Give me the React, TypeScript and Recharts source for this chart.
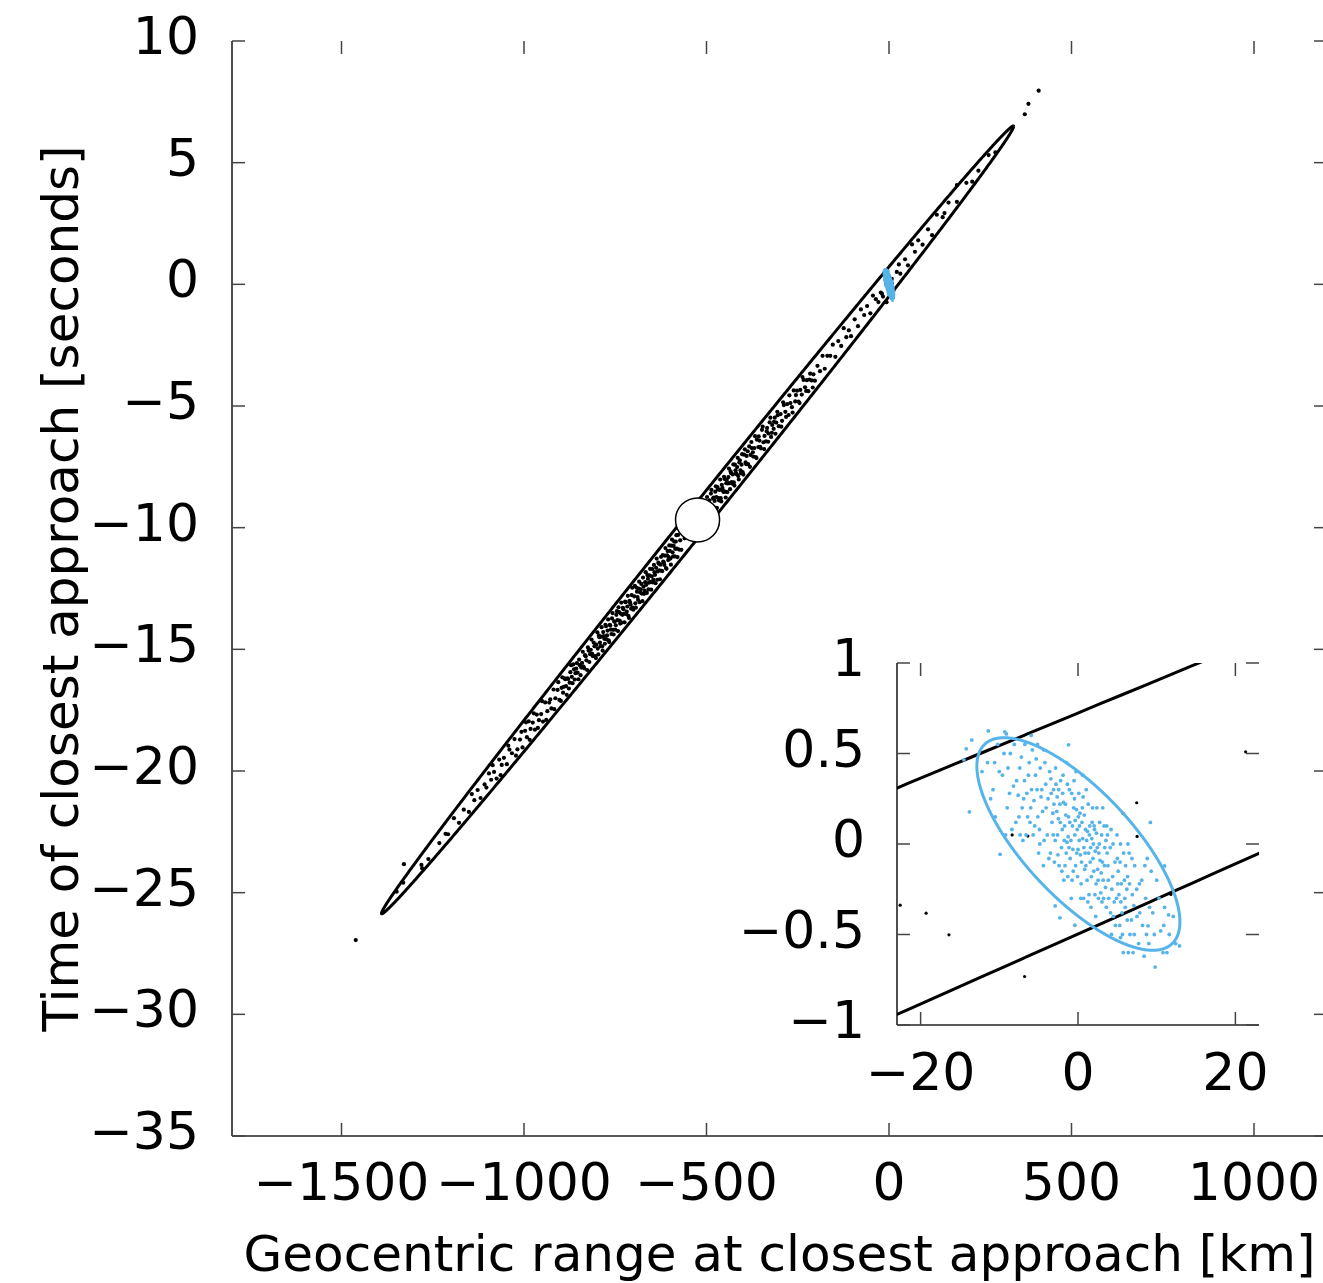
import React from 'react';
import { ScatterChart, Scatter, XAxis, YAxis } from 'recharts';

const FONT = '"DejaVu Sans", Verdana, sans-serif';
const BLUE = '#56B4E9';
const AX = '#222';

// ---- ticks ----
const mainXTicks = [-1500, -1000, -500, 0, 500, 1000];
const mainYTicks = [-35, -30, -25, -20, -15, -10, -5, 0, 5, 10];
const insetXTicks = [-20, 0, 20];
const insetYTicks = [-1, -0.5, 0, 0.5, 1];
const mainXDomain = [-1800, 1200];
const mainYDomain = [-35, 10];
const insetXDomain = [-23, 23];
const insetYDomain = [-1, 1];

// ---- ellipses: [centerX, centerY, halfLengthX, halfLengthY, halfThicknessY] ----
const mainEllipseParams = [-524.5, -9.68, 866, 16.17, 0.767];
const blueEllipseParams = [0.05, 0.0, 12.9, -0.43, 0.4];

// ---- nominal solution (white disc) ----
const nominal = [[-524.5, -9.68]];

// ---- black sample points (range km, time s) ----
const blackPts = [
  [-1461, -26.95], [-1349, -24.96], [-1331, -24.59], [-1329, -23.83],
  [-1281, -23.86], [-1279, -24.0], [-1262, -23.62], [-1232, -22.96], [-1215, -22.58], [-1208, -22.6],
  [-1192, -21.94], [-1178, -22.13], [-1165, -21.59], [-1151, -21.68], [-1143, -20.95], [-1136, -21.2],
  [-1127, -20.78], [-1119, -21.11], [-1108, -20.55], [-1103, -20.68],
  [-1096, -20.1], [-1090, -20.36], [-1082, -20.04], [-1075, -20.31], [-1068, -19.53], [-1061, -19.75],
  [-1055, -19.46], [-1047, -19.72], [-1040, -19.12], [-1033, -19.27], [-1026, -18.69], [-1018, -19.11],
  [-1011, -18.71], [-1004, -19.03],
  [-1086, -19.76], [-1064, -20.17], [-1043, -18.96], [-1022, -19.37], [-1007, -18.39],
  [-997, -18.35], [-992, -18.61], [-987, -17.96], [-982, -18.27], [-976, -18.01], [-970, -18.3],
  [-965, -17.68], [-959, -17.91], [-953, -17.66], [-948, -17.97], [-942, -17.18], [-936, -17.54],
  [-931, -17.19], [-925, -17.43], [-919, -16.65], [-914, -17.01], [-908, -16.67], [-903, -17.08],
  [-994.5, -18.0], [-984.5, -18.72], [-973, -17.63], [-962, -18.23], [-950.5, -17.13], [-939, -17.9],
  [-928, -17.06], [-917, -17.46], [-906, -16.35],
  [-897, -16.58], [-893, -16.78], [-889, -16.19], [-885, -16.51], [-881, -16.19], [-877, -16.61],
  [-873, -15.94], [-869, -16.13], [-865, -15.62], [-861, -16.24], [-857, -15.79], [-853, -15.96],
  [-849, -15.42], [-845, -16.06], [-841, -15.56], [-837, -15.71], [-833, -15.24], [-829, -15.45],
  [-825, -14.92], [-821, -15.52], [-817, -15.02], [-813, -15.19], [-809, -14.72], [-805, -15.28],
  [-802, -14.81],
  [-899, -17.12], [-895, -16.15], [-891, -16.54], [-887, -16.23], [-883, -16.87], [-879, -16.22],
  [-875, -16.37], [-871, -15.65], [-867, -16.39], [-863, -15.82], [-859, -15.98], [-855, -15.57],
  [-851, -16.23], [-847, -15.65], [-843, -15.75], [-839, -15.1], [-835, -15.78], [-831, -15.28],
  [-827, -15.85], [-823, -15.05], [-819, -15.2], [-815, -14.6], [-811, -15.28], [-807, -14.87],
  [-803, -15.36],
  [-798, -14.97], [-795, -14.43], [-792, -14.72], [-789, -14.48], [-786, -14.88], [-783, -14.29],
  [-780, -14.57], [-777, -13.99], [-774, -14.59], [-771, -14.23], [-768, -14.63], [-765, -13.99],
  [-762, -14.19], [-759, -13.73], [-756, -14.2], [-753, -13.85], [-750, -14.19], [-747, -13.58],
  [-744, -13.8], [-741, -13.27], [-738, -13.82], [-735, -13.53], [-732, -13.9], [-729, -13.3],
  [-726, -13.54], [-723, -13.04], [-720, -13.55], [-717, -13.24], [-714, -13.62], [-711, -13.01],
  [-708, -13.16], [-705, -12.77], [-702, -13.29],
  [-799, -14.3], [-796.5, -15.21], [-793.5, -14.5], [-790.5, -14.87], [-787.5, -14.09], [-784.5, -15.05],
  [-781.5, -14.46], [-778.5, -14.77], [-775.5, -14.05], [-772.5, -14.43], [-769.5, -13.77], [-766.5, -14.7],
  [-763.5, -14.02], [-760.5, -14.37], [-757.5, -13.51], [-754.5, -14.39], [-751.5, -13.87], [-748.5, -14.01],
  [-745.5, -13.43], [-742.5, -14.25], [-739.5, -13.47], [-736.5, -13.94], [-733.5, -13.08], [-730.5, -13.58],
  [-727.5, -13.35], [-724.5, -13.89], [-721.5, -13.06], [-718.5, -13.45], [-715.5, -12.8], [-712.5, -13.71],
  [-709.5, -13.08], [-706.5, -13.33], [-703.5, -12.47], [-700.5, -13.37],
  [-698, -12.82], [-695, -13.11], [-692, -12.46], [-689, -12.85], [-686, -12.5], [-683, -13.06],
  [-680, -12.53], [-677, -12.71], [-674, -12.05], [-671, -12.72], [-668, -12.24], [-665, -12.35],
  [-662, -11.95], [-659, -12.54], [-656, -11.96], [-653, -12.23], [-650, -12.0], [-647, -12.25],
  [-644, -11.53], [-641, -11.94], [-638, -11.65], [-635, -12.14], [-632, -11.44], [-629, -11.75],
  [-626, -11.52], [-623, -11.77], [-620, -11.13], [-617, -11.43], [-614, -11.15], [-611, -11.66],
  [-608, -11.14], [-605, -11.33], [-602, -10.73],
  [-696.5, -12.39], [-693.5, -13.29], [-690.5, -12.63], [-687.5, -12.97], [-684.5, -12.22], [-681.5, -12.66],
  [-678.5, -12.31], [-675.5, -13.02], [-672.5, -12.42], [-669.5, -12.59], [-666.5, -11.83], [-663.5, -12.68],
  [-660.5, -12.1], [-657.5, -12.26], [-654.5, -11.69], [-651.5, -12.55], [-648.5, -11.7], [-645.5, -12.14],
  [-642.5, -11.83], [-639.5, -12.28], [-636.5, -11.27], [-633.5, -11.8], [-630.5, -11.48], [-627.5, -12.12],
  [-624.5, -11.2], [-621.5, -11.79], [-618.5, -11.39], [-615.5, -11.53], [-612.5, -10.84], [-609.5, -11.69],
  [-606.5, -10.96], [-603.5, -11.21], [-600.5, -10.95],
  [-599, -11.27], [-596, -10.74], [-593, -11.01], [-590, -10.75], [-587, -11.18], [-584, -10.57],
  [-581, -10.86], [-578, -10.3], [-575, -10.9], [-572, -10.52], [-569, -10.91], [-566, -10.21],
  [-597.5, -11.52], [-594.5, -10.49], [-591.5, -11.18], [-588.5, -10.57], [-585.5, -10.87], [-582.5, -10.31],
  [-579.5, -11.21],
  [-560, -10.44], [-550, -9.96], [-540, -10.22], [-530, -9.48], [-520, -9.65], [-510, -9.06],
  [-497, -9.47], [-494, -8.96], [-491, -9.15], [-488, -8.6], [-485, -9.16], [-482, -8.81],
  [-479, -9.18], [-476, -8.52], [-473, -8.74], [-470, -8.33], [-467, -8.79], [-464, -8.45],
  [-461, -8.79], [-458, -8.24], [-455, -8.46], [-452, -7.91], [-449, -8.52], [-446, -8.17],
  [-443, -8.54], [-440, -7.92], [-437, -8.17], [-434, -7.69], [-431, -8.13], [-428, -7.81],
  [-425, -8.14], [-422, -7.41], [-419, -7.76], [-416, -7.51], [-413, -7.88], [-410, -7.32],
  [-407, -7.64], [-404, -7.41], [-401, -7.72],
  [-498.5, -8.74], [-495.5, -9.64], [-492.5, -8.88], [-489.5, -9.23], [-486.5, -8.45], [-483.5, -9.36],
  [-480.5, -8.76], [-477.5, -8.9], [-474.5, -8.3], [-471.5, -9.19], [-468.5, -8.43], [-465.5, -8.88],
  [-462.5, -8.02], [-459.5, -8.92], [-456.5, -8.36], [-453.5, -8.53], [-450.5, -8.0], [-447.5, -8.76],
  [-444.5, -8.04], [-441.5, -8.18], [-438.5, -7.57], [-435.5, -8.42], [-432.5, -7.76], [-429.5, -8.19],
  [-426.5, -7.4], [-423.5, -8.27], [-420.5, -7.64], [-417.5, -7.8], [-414.5, -7.13], [-411.5, -8.02],
  [-408.5, -7.23], [-405.5, -7.76], [-402.5, -6.98],
  [-397, -7.0], [-393, -7.32], [-390, -7.05], [-386, -7.39], [-383, -6.66], [-379, -7.01],
  [-376, -6.73], [-372, -7.08], [-369, -6.73], [-365, -7.1], [-362, -6.38], [-358, -6.69],
  [-355, -6.42], [-351, -6.74], [-348, -5.98], [-344, -6.49], [-341, -6.23], [-337, -6.45],
  [-334, -5.9], [-330, -6.13], [-327, -5.67], [-323, -6.27], [-320, -5.78], [-316, -5.94],
  [-313, -5.48], [-309, -5.68], [-306, -5.24], [-302, -5.83],
  [-399, -7.82], [-395, -6.78], [-391, -7.39], [-387, -6.86], [-381, -7.5], [-377, -6.48],
  [-373, -6.9], [-367, -6.24], [-363, -7.14], [-357, -6.25], [-353, -6.68], [-346, -5.85],
  [-342, -6.77], [-335, -6.04], [-331, -6.47], [-325, -5.48], [-321, -6.1], [-315, -5.65],
  [-311, -6.14], [-305, -5.38],
  [-297, -5.33], [-293, -5.61], [-288, -4.96], [-284, -5.24], [-279, -4.92], [-275, -5.37],
  [-270, -4.88], [-266, -5.05], [-261, -4.36], [-257, -4.81], [-252, -4.37], [-248, -4.82],
  [-243, -4.34], [-239, -4.53], [-234, -3.93], [-230, -4.23], [-225, -3.94], [-221, -4.39],
  [-216, -3.67], [-212, -3.95], [-207, -3.7], [-203, -3.96],
  [-295, -5.85], [-290, -4.85], [-282, -5.45], [-273, -4.56], [-264, -5.27], [-255, -4.55],
  [-245, -4.88], [-237, -3.81], [-227, -4.38], [-218, -3.91], [-209, -4.24],
  [-196, -3.35], [-189, -3.57], [-182, -2.94], [-176, -3.47], [-169, -2.94], [-161, -2.94],
  [-154, -2.48], [-147, -2.98], [-139, -2.33], [-131, -2.53], [-124, -1.8], [-117, -2.17],
  [-110, -1.89], [-104, -2.13],
  [-94, -1.44], [-85, -1.72], [-77, -1.03], [-68, -1.26], [-60, -0.89], [-51, -1.19],
  [-44, -0.46], [-36, -0.61], [-29, -0.73],
  [-22.6, -0.338], [-19.3, -0.382], [-16.4, -0.502], [-6.79, -0.732], [-8.37, 0.05], [-6.36, 0.044],
  [5.74, 0.169], [7.46, 0.228], [7.51, 0.042], [11.8, -0.279], [21.3, 0.509],
  [27, 0.82], [31, 0.44], [44, 1.03], [52, 0.78], [63, 1.64], [71, 1.34], [80, 1.81], [92, 1.63],
  [107, 2.26], [118, 2.02], [131, 2.86], [147, 2.76], [152, 2.93], [163, 3.36], [186, 3.39], [186, 4.08],
  [212, 4.17], [228, 4.22], [245, 4.67], [273, 5.31], [291.5, 5.42],
  [372, 6.99], [382, 7.42], [410, 7.96],
];

// ---- blue sample points (inset solution) ----
const bluePts = [
  [-3.8, 0.25], [-3.5, -0.05], [-3.1, 0.3], [-2.9, 0.02], [-2.7, 0.18], [-2.4, -0.12], [-2.2, 0.35],
  [-2.0, 0.08], [-1.8, -0.2], [-1.6, 0.22], [-1.4, 0.01], [-1.2, 0.15], [-1.0, -0.08], [-0.8, 0.28],
  [-0.6, -0.15], [-0.4, 0.05], [-0.2, 0.19], [0.0, -0.03], [0.2, 0.1], [0.4, -0.22], [0.6, 0.03],
  [0.8, 0.16], [1.0, -0.12], [1.2, 0.07], [1.4, -0.28], [1.6, -0.02], [1.8, 0.12], [2.0, -0.15],
  [2.2, -0.04], [2.4, 0.2], [2.6, -0.3], [2.8, -0.09], [3.0, 0.05], [3.2, -0.2], [3.4, -0.02],
  [3.6, -0.35], [3.8, -0.12], [-3.6, 0.4], [-3.3, 0.12], [-3.0, -0.1], [-2.6, 0.05], [-2.3, 0.22],
  [-1.9, 0.38], [-1.5, -0.05], [-1.1, 0.3], [-0.7, 0.1], [-0.3, -0.12], [0.1, 0.28], [0.5, 0.12],
  [0.9, -0.05], [1.3, 0.22], [1.7, -0.18], [2.1, 0.08], [2.5, -0.14], [2.9, -0.27], [3.3, 0.1],
  [3.7, -0.05], [-3.9, 0.05], [-3.4, 0.28], [-2.8, 0.33], [-2.1, -0.02], [-1.7, 0.1], [-1.3, -0.18],
  [-0.9, 0.02], [-0.5, 0.35], [-0.1, 0.08], [0.3, -0.06], [0.7, -0.3], [1.1, 0.02], [1.5, 0.1],
  [1.9, -0.08], [2.3, -0.22], [2.7, 0.0], [3.1, -0.1], [3.5, -0.24], [3.9, -0.3], [-3.2, 0.17],
  [-2.5, 0.14], [-1.85, 0.23], [-1.25, 0.04], [-0.65, -0.03], [-0.05, -0.18], [0.55, 0.2],
  [1.15, -0.2], [1.75, 0.03], [2.35, 0.06], [2.95, -0.16], [3.55, 0.02], [0.15, 0.02], [0.85, -0.14],
  [1.45, 0.05], [-0.35, 0.13], [-1.55, 0.16], [2.65, -0.05], [1.95, 0.0], [-2.65, 0.26],
  [-3.7, -0.08], [-3.45, 0.36], [-3.15, 0.05], [-2.85, 0.42], [-2.55, -0.06], [-2.25, 0.12],
  [-1.95, 0.28], [-1.65, -0.12], [-1.35, 0.33], [-1.05, 0.12], [-0.75, -0.2], [-0.45, 0.25],
  [-0.15, -0.05], [0.25, 0.17], [0.45, -0.1], [0.65, 0.26], [0.95, 0.08], [1.25, -0.32], [1.55, -0.1],
  [1.85, 0.2], [2.15, -0.28], [2.45, -0.02], [2.75, 0.12], [3.05, -0.32], [3.35, -0.12], [3.65, 0.1],
  [3.85, -0.2], [-3.05, 0.22], [-2.45, 0.3], [-1.75, 0.02], [-1.15, -0.02], [-0.55, 0.2], [0.05, 0.15],
  [0.75, -0.02], [1.35, -0.05], [2.05, 0.1], [2.55, -0.2], [3.25, -0.3], [3.75, 0.05],
  [-0.25, 0.4], [0.35, -0.3], [1.05, 0.3], [-1.45, 0.45], [2.25, -0.4], [-2.05, -0.15], [3.15, 0.2],
  [1.65, -0.35], [-0.85, -0.3], [0.6, 0.38],
  [-7.8, 0.35], [-7.5, 0.15], [-7.2, 0.48], [-6.9, 0.25], [-6.6, 0.05], [-6.3, 0.38], [-6.0, 0.2],
  [-5.8, 0.52], [-5.5, 0.1], [-5.2, 0.3], [-5.0, -0.05], [-4.8, 0.42], [-4.5, 0.18], [-4.3, 0.02],
  [-4.1, 0.33], [-6.5, 0.28], [-5.6, 0.24], [-4.7, 0.26], [-7.0, 0.02], [-5.3, 0.47], [-4.4, -0.12],
  [-6.1, 0.12], [-7.6, 0.27], [-4.9, 0.08],
  [-4.2, 0.45], [-4.6, 0.3], [-5.1, 0.15], [-5.4, 0.38], [-5.7, 0.05], [-5.9, 0.3], [-6.2, 0.45],
  [-6.4, 0.15], [-6.8, 0.35], [-7.1, 0.2], [-7.4, 0.42], [-7.9, 0.12], [-4.05, 0.2], [-4.85, 0.0],
  [-5.95, 0.6], [-6.75, 0.55], [-7.35, 0.05], [-4.35, 0.52], [-5.15, 0.55],
  [4.1, -0.02], [4.3, -0.25], [4.5, -0.4], [4.7, -0.1], [4.9, -0.3], [5.1, -0.15], [5.3, -0.45],
  [5.5, -0.22], [5.8, -0.05], [6.0, -0.35], [6.3, -0.18], [6.6, -0.5], [6.9, -0.28], [7.2, -0.12],
  [7.5, -0.4], [7.8, -0.22], [4.4, -0.18], [5.0, -0.08], [5.6, -0.38], [6.2, -0.25], [6.8, -0.42],
  [4.6, -0.32], [5.2, -0.28], [5.9, -0.2], [6.5, -0.05], [7.1, -0.34], [4.2, 0.08], [7.7, -0.55],
  [5.4, 0.0], [6.4, -0.6],
  [4.15, -0.38], [4.45, 0.0], [4.75, -0.45], [5.05, -0.22], [5.35, -0.1], [5.65, -0.5], [5.95, -0.3],
  [6.25, -0.42], [6.55, -0.22], [6.85, -0.08], [7.15, -0.5], [7.45, -0.25], [7.85, -0.38], [4.25, -0.5],
  [4.95, 0.05], [5.75, -0.6], [6.35, 0.0], [7.0, -0.6], [5.45, -0.32], [6.05, -0.12],
  [-11.5, 0.45], [-10.8, 0.3], [-10.2, 0.55], [-9.6, 0.38], [-9.0, 0.2], [-8.6, 0.5], [-8.2, 0.32],
  [-9.3, 0.62], [-10.5, 0.15], [-8.4, 0.08], [-12.2, 0.4], [-8.9, 0.42],
  [-8.1, 0.55], [-8.7, 0.28], [-9.4, 0.5], [-10.0, 0.4], [-10.6, 0.45], [-11.1, 0.25], [-9.2, 0.05],
  [8.2, -0.45], [8.6, -0.3], [9.0, -0.55], [9.5, -0.38], [10.0, -0.2], [10.5, -0.48], [11.0, -0.35],
  [11.6, -0.5], [8.4, -0.62], [9.3, -0.15], [10.8, -0.6], [12.1, -0.4], [8.8, -0.08], [9.8, -0.68],
  [8.1, -0.2], [8.7, -0.5], [9.1, -0.35], [9.7, -0.5], [10.3, -0.3], [10.9, -0.45], [11.3, -0.6],
  [8.5, -0.12], [12.4, -0.55],
  [-11.4, 0.625], [-9.1, 0.608], [-13.5, 0.574], [-14.2, 0.526], [-14.5, 0.465], [-13.8, 0.178],
  [-9.9, -0.057], [-1.2, 0.548], [9.2, 0.119], [12.9, -0.563], [11.5, -0.392], [8.9, -0.452],
  [5.4, -0.517], [-0.4, -0.449], [-2.3, -0.408], [-2.9, -0.342], [11.0, -0.121],
];

const toObj = (arr: number[][]) => arr.map(([x, y]) => ({ x, y }));
const ellipsePoints = (p: number[]) => {
  const [cx, cy, a, b, c] = p;
  const pts: { x: number; y: number }[] = [];
  for (let i = 0; i <= 1440; i++) {
    const t = (i * Math.PI) / 720;
    pts.push({ x: cx + a * Math.cos(t), y: cy + b * Math.cos(t) + c * Math.sin(t) });
  }
  return pts;
};

const mainEllipse = ellipsePoints(mainEllipseParams);
const blueEllipse = ellipsePoints(blueEllipseParams);
const blackData = toObj(blackPts);
const blueData = toObj(bluePts);
const nominalData = toObj(nominal);

const fmt = (v: number) => (v < 0 ? '\u2212' + String(Math.abs(v)) : String(v));

const FS = 52;
const TICK_LEN = 13;

function makeXTick(pt: number, pb: number, labelDy: number) {
  return (props: any) => {
    const { x, payload } = props;
    return (
      <g>
        <line x1={x} x2={x} y1={pb} y2={pb - TICK_LEN} stroke="#444" strokeWidth={1.5} />
        <line x1={x} x2={x} y1={pt} y2={pt + TICK_LEN} stroke="#444" strokeWidth={1.5} />
        <text x={x} y={pb + labelDy} textAnchor="middle" fontFamily={FONT} fontSize={FS} fill="#000">
          {fmt(payload.value)}
        </text>
      </g>
    );
  };
}

function makeYTick(pl: number, pr: number, labelRight: number) {
  return (props: any) => {
    const { y, payload } = props;
    return (
      <g>
        <line x1={pl} x2={pl + TICK_LEN} y1={y} y2={y} stroke="#444" strokeWidth={1.5} />
        <line x1={pr - TICK_LEN} x2={pr} y1={y} y2={y} stroke="#444" strokeWidth={1.5} />
        <text x={labelRight} y={y + 13} textAnchor="end" fontFamily={FONT} fontSize={FS} fill="#000">
          {fmt(payload.value)}
        </text>
      </g>
    );
  };
}

// main layout (wrapper at page x=8, y=0)
const M = { w: 1340, h: 1283, top: 41, left: 224, plotW: 1095, plotH: 1095 };
const mPL = M.left;
const mPR = M.left + M.plotW;
const mPT = M.top;
const mPB = M.top + M.plotH;

// inset layout (svg at page x=737, y=600)
const I = { w: 542, h: 505, top: 63, left: 160, plotW: 362, plotH: 362 };
const iPL = I.left;
const iPR = I.left + I.plotW;
const iPT = I.top;
const iPB = I.top + I.plotH;

const MainXTick = makeXTick(mPT, mPB, 64);
const MainYTick = makeYTick(mPL, mPR, 191);
const InsetXTick = makeXTick(iPT, iPB, 65);
const InsetYTick = makeYTick(iPL + 0, iPR, 128);

const XTitle = () => (
  <text x={(mPL + mPR) / 2} y={1271} textAnchor="middle" fontFamily={FONT} fontSize={50} fill="#000">
    Geocentric range at closest approach [km]
  </text>
);
const YTitle = () => {
  const cx = 70;
  const cy = (mPT + mPB) / 2;
  return (
    <text
      x={cx}
      y={cy}
      transform={`rotate(-90 ${cx} ${cy})`}
      textAnchor="middle"
      fontFamily={FONT}
      fontSize={50}
      fill="#000"
    >
      Time of closest approach [seconds]
    </text>
  );
};

const BlackDot = (r: number) => (p: any) => <circle cx={p.cx} cy={p.cy} r={r} fill="#000" />;
const BlueDot = (r: number) => (p: any) => <circle cx={p.cx} cy={p.cy} r={r} fill={BLUE} />;
const NoDot = () => <g />;
const NominalDisc = (p: any) => (
  <circle cx={p.cx} cy={p.cy} r={22} fill="#fff" stroke="#000" strokeWidth={1.5} />
);

const axisLine = { stroke: AX, strokeWidth: 1.6 };

export default function App() {
  return (
    <div
      style={{
        position: 'fixed',
        left: 8,
        top: 0,
        width: 1315,
        height: 1283,
        overflow: 'hidden',
        background: '#fff',
      }}
    >
      <ScatterChart width={M.w} height={M.h} margin={{ top: M.top, right: M.w - mPR, bottom: 0, left: 0 }}>
        <XAxis
          dataKey="x"
          type="number"
          domain={mainXDomain}
          ticks={mainXTicks}
          allowDataOverflow
          height={M.h - mPB}
          tick={<MainXTick />}
          tickLine={false}
          axisLine={axisLine}
          interval={0}
          label={<XTitle />}
        />
        <XAxis xAxisId="top" orientation="top" type="number" domain={mainXDomain} height={0} tick={false} tickLine={false} axisLine={axisLine} />
        <YAxis
          dataKey="y"
          type="number"
          domain={mainYDomain}
          ticks={mainYTicks}
          allowDataOverflow
          width={M.left}
          tick={<MainYTick />}
          tickLine={false}
          axisLine={axisLine}
          interval={0}
          label={<YTitle />}
        />
        <YAxis yAxisId="right" orientation="right" type="number" domain={mainYDomain} width={0} tick={false} tickLine={false} axisLine={axisLine} />
        <Scatter data={mainEllipse} shape={NoDot} line={{ stroke: '#000', strokeWidth: 3, strokeLinejoin: 'round' }} isAnimationActive={false} />
        <Scatter data={blackData} shape={BlackDot(2.1)} isAnimationActive={false} />
        <Scatter data={blueEllipse} shape={NoDot} line={{ stroke: BLUE, strokeWidth: 3 }} isAnimationActive={false} />
        <Scatter data={blueData} shape={BlueDot(1.2)} isAnimationActive={false} />
        <Scatter data={nominalData} shape={NominalDisc} isAnimationActive={false} />
      </ScatterChart>

      <div style={{ position: 'absolute', left: 729, top: 600 }}>
        <ScatterChart width={I.w} height={I.h} margin={{ top: I.top, right: I.w - iPR, bottom: 0, left: 0 }}>
          <XAxis
            dataKey="x"
            type="number"
            domain={insetXDomain}
            ticks={insetXTicks}
            allowDataOverflow
            height={I.h - iPB}
            tick={<InsetXTick />}
            tickLine={false}
            axisLine={axisLine}
            interval={0}
          />
          <XAxis xAxisId="top" orientation="top" type="number" domain={insetXDomain} height={0} tick={false} tickLine={false} axisLine={axisLine} />
          <YAxis
            dataKey="y"
            type="number"
            domain={insetYDomain}
            ticks={insetYTicks}
            allowDataOverflow
            width={I.left}
            tick={<InsetYTick />}
            tickLine={false}
            axisLine={axisLine}
            interval={0}
          />
          <YAxis yAxisId="right" orientation="right" type="number" domain={insetYDomain} width={0} tick={false} tickLine={false} axisLine={axisLine} />
          <Scatter data={mainEllipse} shape={NoDot} line={{ stroke: '#000', strokeWidth: 3 }} isAnimationActive={false} />
          <Scatter data={blackData} shape={BlackDot(1.6)} isAnimationActive={false} />
          <Scatter data={blueData} shape={BlueDot(1.9)} isAnimationActive={false} />
          <Scatter data={blueEllipse} shape={NoDot} line={{ stroke: BLUE, strokeWidth: 3 }} isAnimationActive={false} />
        </ScatterChart>
      </div>
    </div>
  );
}
